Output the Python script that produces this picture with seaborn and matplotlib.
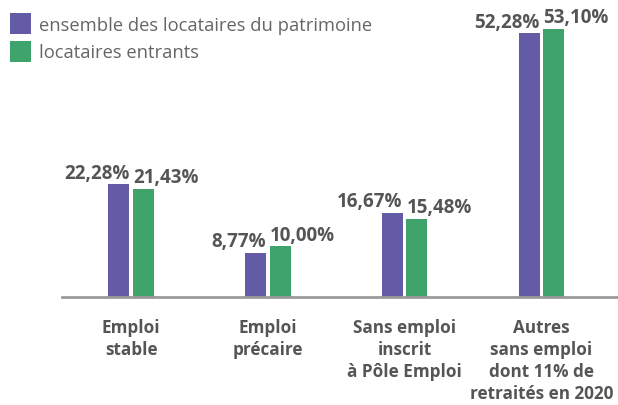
import matplotlib
matplotlib.use("Agg")
import matplotlib.pyplot as plt
import seaborn as sns
import pandas as pd
from matplotlib.patches import Patch

categories = ["Emploi\nstable", "Emploi\nprécaire", "Sans emploi\ninscrit\nà Pôle Emploi",
              "Autres\nsans emploi\ndont 11% de\nretraités en 2020"]
series_names = ["ensemble des locataires du patrimoine", "locataires entrants"]
ensemble = [22.28, 8.77, 16.67, 52.28]
entrants = [21.43, 10.00, 15.48, 53.10]
label_ensemble = ["22,28%", "8,77%", "16,67%", "52,28%"]
label_entrants = ["21,43%", "10,00%", "15,48%", "53,10%"]

colors = ["#635BA6", "#3FA36C"]
text_col = "#555555"

df = pd.DataFrame({
    "cat": categories * 2,
    "serie": [series_names[0]] * 4 + [series_names[1]] * 4,
    "val": ensemble + entrants,
})

sns.set_theme(style="white")
plt.rcParams["font.family"] = ["Open Sans", "DejaVu Sans"]

fig = plt.figure(figsize=(6.18, 4.06), dpi=100)
ax = fig.add_axes([62 / 618, 108 / 406, 556 / 618, 298 / 406])

sns.barplot(data=df, x="cat", y="val", hue="serie", palette=colors,
            width=0.36, gap=0.15, dodge=True, ax=ax, legend=False,
            saturation=1, edgecolor="none")

ax.set_xlim(-0.505, 3.56)
ax.set_ylim(0, 59)
for s in ["top", "right", "left"]:
    ax.spines[s].set_visible(False)
ax.spines["bottom"].set_color("#9a9a9a")
ax.spines["bottom"].set_linewidth(2)
ax.set_yticks([])
ax.set_xlabel("")
ax.set_ylabel("")
ax.tick_params(axis="x", length=0, pad=15)
for t in ax.get_xticklabels():
    t.set_fontweight("bold")
    t.set_color(text_col)
    t.set_fontsize(12.3)
    t.set_linespacing(1.3)
    t.set_verticalalignment("top")

# value labels
for cont, labels, ha in zip(ax.containers, [label_ensemble, label_entrants], ["right", "left"]):
    for bar, lab in zip(cont, labels):
        x = bar.get_x() + (bar.get_width() if ha == "right" else 0)
        ax.annotate(lab, (x, bar.get_height()), xytext=(0, 1), textcoords="offset points",
                    ha=ha, va="bottom", fontsize=13.5, fontweight="bold", color=text_col)

# legend
handles = [Patch(facecolor=c, edgecolor="none") for c in colors]
leg = fig.legend(handles, series_names, loc="upper left", bbox_to_anchor=(0.0, 0.99),
                 frameon=False, fontsize=13.2, handlelength=1.15, handleheight=1.4,
                 handletextpad=0.45, labelspacing=0.35, labelcolor="#666666",
                 borderaxespad=0.35, borderpad=0.2)

fig.savefig("out.png", dpi=100)
